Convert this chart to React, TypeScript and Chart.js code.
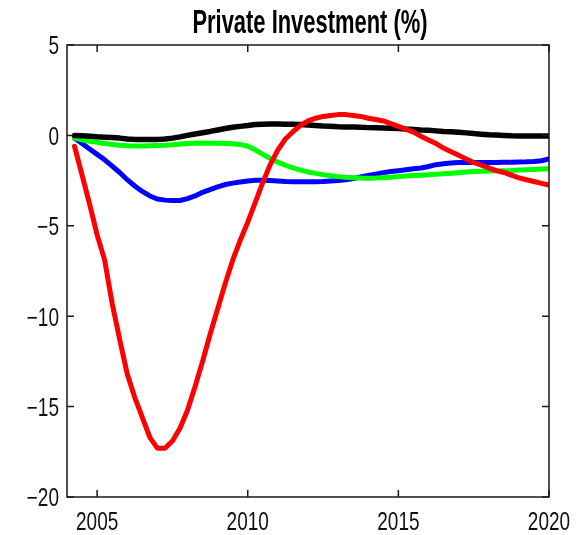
import React, { useEffect, useRef } from "react";
import { Chart, registerables } from "chart.js";

Chart.register(...registerables);

// Quarterly observations, 2004Q2 .. 2020Q1
const years = [
  2004.25, 2004.5, 2004.75, 2005.0, 2005.25, 2005.5, 2005.75, 2006.0,
  2006.25, 2006.5, 2006.75, 2007.0, 2007.25, 2007.5, 2007.75, 2008.0,
  2008.25, 2008.5, 2008.75, 2009.0, 2009.25, 2009.5, 2009.75, 2010.0,
  2010.25, 2010.5, 2010.75, 2011.0, 2011.25, 2011.5, 2011.75, 2012.0,
  2012.25, 2012.5, 2012.75, 2013.0, 2013.25, 2013.5, 2013.75, 2014.0,
  2014.25, 2014.5, 2014.75, 2015.0, 2015.25, 2015.5, 2015.75, 2016.0,
  2016.25, 2016.5, 2016.75, 2017.0, 2017.25, 2017.5, 2017.75, 2018.0,
  2018.25, 2018.5, 2018.75, 2019.0, 2019.25, 2019.5, 2019.75, 2020.0,
];

const redSeries = [
  -0.6, -2.2, -3.8, -5.5, -6.9, -9.3, -11.3, -13.2,
  -14.5, -15.6, -16.7, -17.3, -17.3, -16.9, -16.2, -15.2,
  -13.9, -12.5, -11.0, -9.6, -8.2, -6.9, -5.8, -4.8,
  -3.7, -2.6, -1.6, -0.8, -0.2, 0.2, 0.55, 0.8,
  0.95, 1.05, 1.1, 1.15, 1.15, 1.1, 1.05, 0.95,
  0.88, 0.8, 0.65, 0.5, 0.35, 0.18, -0.05, -0.25,
  -0.45, -0.7, -0.9, -1.1, -1.3, -1.5, -1.65, -1.8,
  -1.95, -2.05, -2.2, -2.35, -2.45, -2.55, -2.65, -2.75,
];

const blackSeries = [
  0.0, -0.02, -0.05, -0.08, -0.1, -0.12, -0.15, -0.2,
  -0.22, -0.22, -0.22, -0.22, -0.2, -0.15, -0.08, 0.0,
  0.08, 0.15, 0.22, 0.3, 0.38, 0.45, 0.5, 0.55,
  0.6, 0.62, 0.63, 0.63, 0.62, 0.62, 0.6, 0.58,
  0.55, 0.52, 0.5, 0.48, 0.47, 0.46, 0.45, 0.43,
  0.42, 0.41, 0.4, 0.38, 0.35, 0.33, 0.3, 0.28,
  0.25, 0.22, 0.2, 0.17, 0.14, 0.1, 0.07, 0.04,
  0.02, 0.0, -0.02, -0.03, -0.03, -0.03, -0.03, -0.03,
];

const greenSeries = [
  -0.15, -0.25, -0.33, -0.38, -0.45, -0.5, -0.55, -0.57,
  -0.58, -0.58, -0.57, -0.56, -0.55, -0.52, -0.48, -0.45,
  -0.43, -0.42, -0.43, -0.44, -0.45, -0.46, -0.5, -0.6,
  -0.8, -1.05, -1.28, -1.48, -1.65, -1.8, -1.92, -2.02,
  -2.1, -2.17, -2.23, -2.28, -2.32, -2.34, -2.36, -2.37,
  -2.36, -2.34, -2.31, -2.28, -2.25, -2.22, -2.2, -2.18,
  -2.15, -2.12, -2.09, -2.06, -2.03, -2.0, -1.98, -1.97,
  -1.96, -1.95, -1.94, -1.92, -1.9, -1.88, -1.86, -1.85,
];

const blueSeries = [
  -0.15, -0.45, -0.75, -1.05, -1.35, -1.7, -2.05, -2.45,
  -2.8, -3.1, -3.35, -3.52, -3.58, -3.6, -3.6, -3.5,
  -3.35, -3.15, -3.0, -2.85, -2.72, -2.64, -2.58, -2.52,
  -2.48, -2.48, -2.5, -2.52, -2.55, -2.56, -2.56, -2.56,
  -2.56, -2.55, -2.52, -2.5, -2.45, -2.38, -2.3, -2.22,
  -2.14, -2.06, -2.0, -1.95, -1.9, -1.85, -1.8, -1.72,
  -1.62, -1.57, -1.53, -1.5, -1.5, -1.5, -1.5, -1.5,
  -1.5, -1.49, -1.48, -1.47, -1.46, -1.44, -1.4, -1.3,
];

const xTickValues = [2005, 2010, 2015, 2020];
const yTickValues = [-20, -15, -10, -5, 0, 5];
const chartTitle = "Private Investment (%)";

const FONT = "'Liberation Sans', Arial, Helvetica, sans-serif";

const toPoints = (vals: number[]) => years.map((x, i) => ({ x, y: vals[i] }));

const fmtY = (v: number) => (v < 0 ? "\u2212" + Math.abs(v) : String(v));

// Text set in a narrow, tall face: the sans font squeezed horizontally
function narrowText(
  ctx: CanvasRenderingContext2D,
  text: string,
  x: number,
  y: number,
  squeeze: number,
  align: CanvasTextAlign
) {
  ctx.save();
  ctx.translate(x, y);
  ctx.scale(squeeze, 1);
  ctx.textAlign = align;
  ctx.textBaseline = "alphabetic";
  ctx.fillText(text, 0, 0);
  ctx.restore();
}

// Closed box with inward tick marks on all four sides, plus title and tick labels
const boxFrame = {
  id: "boxFrame",
  afterDatasetsDraw(chart: any) {
    const { ctx, chartArea: a, scales } = chart;
    const len = 7;
    ctx.save();
    ctx.strokeStyle = "#1a1a1a";
    ctx.lineWidth = 1.5;
    ctx.strokeRect(a.left, a.top, a.right - a.left, a.bottom - a.top);
    ctx.beginPath();
    for (const t of scales.x.ticks) {
      const px = scales.x.getPixelForValue(t.value);
      ctx.moveTo(px, a.bottom);
      ctx.lineTo(px, a.bottom - len);
      ctx.moveTo(px, a.top);
      ctx.lineTo(px, a.top + len);
    }
    for (const t of scales.y.ticks) {
      const py = scales.y.getPixelForValue(t.value);
      ctx.moveTo(a.left, py);
      ctx.lineTo(a.left + len, py);
      ctx.moveTo(a.right, py);
      ctx.lineTo(a.right - len, py);
    }
    ctx.stroke();

    ctx.fillStyle = "#111";
    ctx.font = `25px ${FONT}`;
    for (const t of scales.x.ticks) {
      const px = scales.x.getPixelForValue(t.value);
      narrowText(ctx, String(t.value), px, a.bottom + 33, 0.76, "center");
    }
    for (const t of scales.y.ticks) {
      const py = scales.y.getPixelForValue(t.value);
      narrowText(ctx, fmtY(t.value), a.left - 8, py + 9.3, 0.76, "right");
    }

    ctx.fillStyle = "#000";
    ctx.font = `bold 34px ${FONT}`;
    narrowText(ctx, chartTitle, (a.left + a.right) / 2 + 2, 33, 0.645, "center");
    ctx.restore();
  },
};

export default function App() {
  const canvasRef = useRef<HTMLCanvasElement | null>(null);

  useEffect(() => {
    const canvas = canvasRef.current;
    if (!canvas) return;
    const line = (data: number[], color: string, width: number) => ({
      data: toPoints(data),
      borderColor: color,
      backgroundColor: color,
      borderWidth: width,
      pointRadius: 0,
      tension: 0,
      fill: false,
      borderJoinStyle: "round" as const,
      borderCapStyle: "round" as const,
    });
    const chart = new Chart(canvas, {
      type: "line",
      data: {
        datasets: [
          line(redSeries, "#ff0000", 5),
          line(blackSeries, "#000000", 5.5),
          line(greenSeries, "#00ff00", 5),
          line(blueSeries, "#0000ff", 5),
        ],
      },
      options: {
        responsive: false,
        animation: false,
        layout: { padding: { top: 45, left: 0, right: 37, bottom: 0 } },
        plugins: {
          legend: { display: false },
          tooltip: { enabled: false },
          title: { display: false },
        },
        scales: {
          x: {
            type: "linear",
            min: 2004,
            max: 2020,
            afterBuildTicks: (s: any) => {
              s.ticks = xTickValues.map((value) => ({ value }));
            },
            afterFit: (s: any) => {
              s.height = 38;
            },
            grid: { display: false },
            border: { display: false },
            ticks: { display: false },
          },
          y: {
            type: "linear",
            min: -20,
            max: 5,
            afterBuildTicks: (s: any) => {
              s.ticks = yTickValues.map((value) => ({ value }));
            },
            afterFit: (s: any) => {
              s.width = 67;
            },
            grid: { display: false },
            border: { display: false },
            ticks: { display: false },
          },
        },
      },
      plugins: [boxFrame],
    });
    return () => chart.destroy();
  }, []);

  return (
    <canvas
      ref={canvasRef}
      width={586}
      height={535}
      style={{ position: "absolute", left: 0, top: 0, display: "block", background: "#fff" }}
    />
  );
}
